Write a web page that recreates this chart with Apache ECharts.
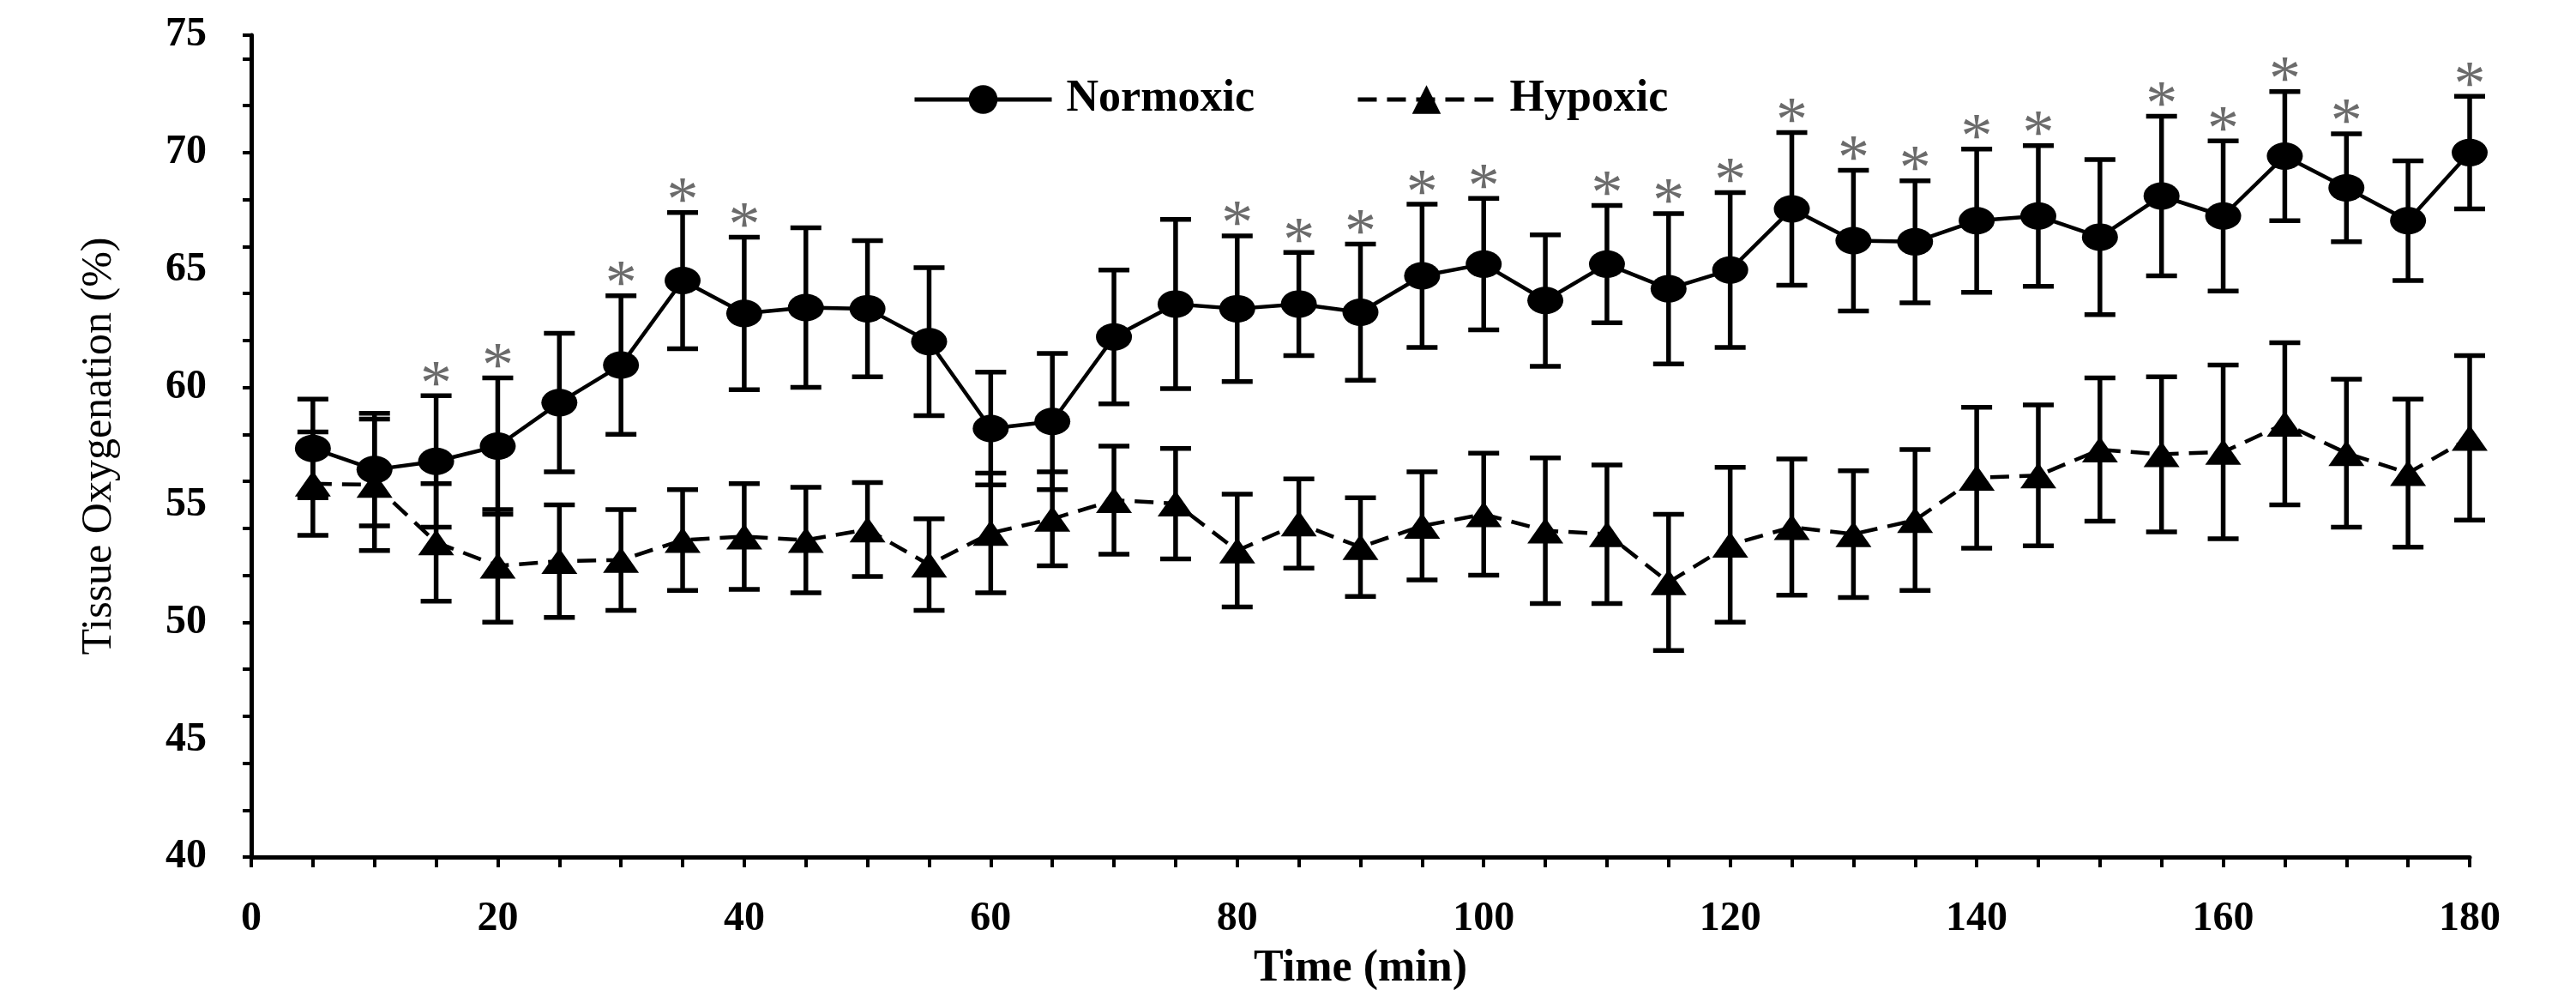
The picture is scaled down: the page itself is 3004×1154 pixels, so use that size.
<!DOCTYPE html>
<html>
<head>
<meta charset="utf-8">
<script src="https://cdn.jsdelivr.net/npm/echarts@6/dist/echarts.min.js"></script>
<style>
  html, body { margin: 0; padding: 0; background: #fff; }
  #chart { width: 3004px; height: 1154px; }
</style>
</head>
<body>
<div id="chart"></div>
<script>
// time points (min)
var times = [5, 10, 15, 20, 25, 30, 35, 40, 45, 50, 55, 60, 65, 70, 75, 80, 85, 90,
             95, 100, 105, 110, 115, 120, 125, 130, 135, 140, 145, 150, 155, 160, 165, 170, 175, 180];

// mean tissue oxygenation (%) and error (SD)
var normoxicMean = [57.4, 56.5, 56.85, 57.5, 59.35, 60.95, 64.55, 63.15, 63.4, 63.35, 61.95, 58.25,
                    58.55, 62.15, 63.55, 63.35, 63.55, 63.2, 64.75, 65.25, 63.7, 65.25, 64.2, 65.0,
                    67.6, 66.25, 66.2, 67.1, 67.3, 66.4, 68.15, 67.3, 69.85, 68.5, 67.1, 70.0];
var normoxicErr = [2.1, 2.4, 2.8, 2.9, 2.95, 2.95, 2.9, 3.25, 3.4, 2.9, 3.15, 2.4,
                   2.9, 2.85, 3.6, 3.1, 2.2, 2.9, 3.05, 2.8, 2.8, 2.5, 3.2, 3.3,
                   3.25, 3.0, 2.6, 3.05, 3.0, 3.3, 3.4, 3.2, 2.75, 2.3, 2.55, 2.4];

var hypoxicMean = [55.9, 55.85, 53.4, 52.4, 52.6, 52.65, 53.5, 53.65, 53.5, 53.95, 52.45, 53.8,
                   54.4, 55.2, 55.05, 53.05, 54.2, 53.2, 54.1, 54.6, 53.9, 53.75, 51.7, 53.3,
                   54.05, 53.75, 54.35, 56.15, 56.25, 57.35, 57.15, 57.25, 58.45, 57.2, 56.35, 57.85];
var hypoxicErr = [2.2, 2.8, 2.5, 2.4, 2.4, 2.15, 2.15, 2.25, 2.25, 2.0, 1.95, 2.55,
                  2.0, 2.3, 2.35, 2.4, 1.9, 2.1, 2.3, 2.6, 3.1, 2.95, 2.9, 3.3,
                  2.9, 2.7, 3.0, 3.0, 3.0, 3.05, 3.3, 3.7, 3.45, 3.15, 3.15, 3.5];

// time points marked significant (*)
var sigTimes = [15, 20, 30, 35, 40, 80, 85, 90, 95, 100, 110, 115, 120, 125, 130, 135,
                140, 145, 155, 160, 165, 170, 180];

var yTicks = [40, 45, 50, 55, 60, 65, 70, 75];
var xTicks = [0, 20, 40, 60, 80, 100, 120, 140, 160, 180];

function pairs(m) {
    return times.map(function (t, i) { return [t, m[i]]; });
}
function bars(m, e) {
    return times.map(function (t, i) { return [t, m[i] - e[i], m[i] + e[i]]; });
}
var stars = [];
times.forEach(function (t, i) {
    if (sigTimes.indexOf(t) >= 0) stars.push([t, normoxicMean[i] + normoxicErr[i]]);
});

function renderBar(params, api) {
    var lo = api.coord([api.value(0), api.value(1)]);
    var hi = api.coord([api.value(0), api.value(2)]);
    var half = 18;
    var st = { stroke: '#000', lineWidth: 5.5 };
    return {
        type: 'group',
        children: [
            { type: 'line', shape: { x1: lo[0], y1: lo[1], x2: hi[0], y2: hi[1] }, style: st },
            { type: 'line', shape: { x1: hi[0] - half, y1: hi[1], x2: hi[0] + half, y2: hi[1] }, style: st },
            { type: 'line', shape: { x1: lo[0] - half, y1: lo[1], x2: lo[0] + half, y2: lo[1] }, style: st }
        ]
    };
}

function renderStar(params, api) {
    var p = api.coord([api.value(0), api.value(1)]);
    return {
        type: 'text',
        x: p[0],
        y: p[1] - 10,
        style: {
            text: '*',
            fontSize: 74,
            fontFamily: 'Liberation Serif',
            fill: '#6b6b6b',
            align: 'center',
            verticalAlign: 'middle'
        }
    };
}

var font = 'Liberation Serif';
var chart = echarts.init(document.getElementById('chart'), null, { renderer: 'canvas' });

var option = {
    backgroundColor: '#fff',
    animation: false,
    grid: { left: 293, right: 124, top: 41, bottom: 155, outerBoundsMode: 'none', containLabel: false },
    legend: {
        left: 1059,
        top: 85,
        itemWidth: 160,
        itemHeight: 42,
        itemGap: 118,
        lineStyle: { width: 5 },
        textStyle: { fontFamily: font, fontWeight: 'bold', fontSize: 52, color: '#000', padding: [0, 0, 0, 12] },
        data: ['Normoxic', 'Hypoxic']
    },
    xAxis: {
        type: 'value',
        min: 0,
        max: 180,
        interval: 5,
        name: 'Time (min)',
        nameLocation: 'middle',
        nameGap: 105,
        nameTextStyle: { fontFamily: font, fontWeight: 'bold', fontSize: 52, color: '#000' },
        axisLine: { lineStyle: { color: '#000', width: 5 } },
        axisTick: { show: true, inside: false, length: 12, lineStyle: { color: '#000', width: 4 } },
        axisLabel: {
            margin: 49,
            fontFamily: font, fontWeight: 'bold', fontSize: 48, color: '#000',
            formatter: function (v) { return xTicks.indexOf(v) >= 0 ? String(v) : ''; }
        },
        splitLine: { show: false }
    },
    yAxis: [
        {
            type: 'value',
            position: 'left',
            min: 40,
            max: 75,
            interval: 5,
            name: 'Tissue Oxygenation (%)',
            nameLocation: 'middle',
            nameRotate: 90,
            nameGap: 152,
            nameTextStyle: { fontFamily: font, fontSize: 50, color: '#000' },
            axisLine: { show: true, lineStyle: { color: '#000', width: 5 } },
            axisTick: { show: false },
            axisLabel: {
                margin: 52,
                fontFamily: font, fontWeight: 'bold', fontSize: 48, color: '#000',
                formatter: function (v) { return yTicks.indexOf(v) >= 0 ? String(v) : ''; }
            },
            splitLine: { show: false }
        },
        {
            // minor ticks every 2 units
            type: 'value',
            position: 'left',
            min: 40,
            max: 75,
            interval: 2,
            axisLine: { show: false },
            axisTick: { show: true, inside: false, length: 10, lineStyle: { color: '#000', width: 4 } },
            axisLabel: { show: false },
            splitLine: { show: false }
        }
    ],
    series: [
        {
            name: 'Normoxic bars',
            type: 'custom',
            renderItem: renderBar,
            data: bars(normoxicMean, normoxicErr),
            encode: { x: 0, y: [1, 2] },
            z: 1,
            silent: true
        },
        {
            name: 'Hypoxic bars',
            type: 'custom',
            renderItem: renderBar,
            data: bars(hypoxicMean, hypoxicErr),
            encode: { x: 0, y: [1, 2] },
            z: 1,
            silent: true
        },
        {
            name: 'Normoxic',
            type: 'line',
            data: pairs(normoxicMean),
            symbol: 'circle',
            symbolSize: [42, 32],
            itemStyle: { color: '#000' },
            lineStyle: { color: '#000', width: 4.5, type: 'solid' },
            z: 3
        },
        {
            name: 'Hypoxic',
            type: 'line',
            data: pairs(hypoxicMean),
            symbol: 'triangle',
            symbolSize: [42, 30],
            itemStyle: { color: '#000' },
            lineStyle: { color: '#000', width: 4.5, type: [22, 12] },
            z: 3
        },
        {
            name: 'sig',
            type: 'custom',
            renderItem: renderStar,
            data: stars,
            encode: { x: 0, y: 1 },
            z: 4,
            silent: true
        }
    ]
};

chart.setOption(option);
</script>
</body>
</html>
